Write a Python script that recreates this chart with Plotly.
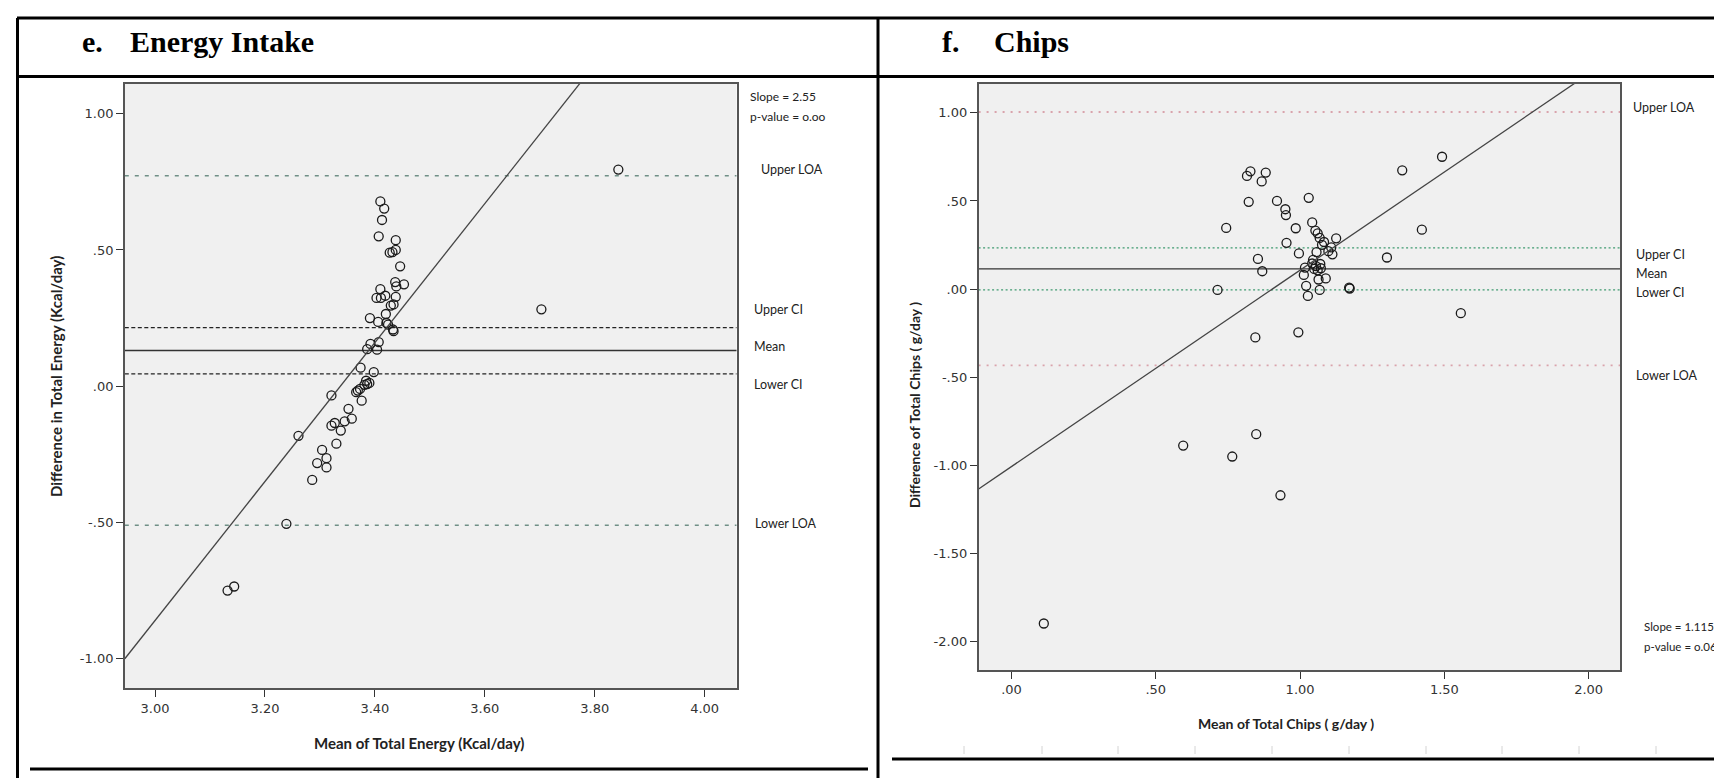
import plotly.graph_objects as go

W, H = 1722, 778

# ---------------- data ----------------
energy_mean = [3.843, 3.703, 3.410, 3.417, 3.413, 3.407, 3.438, 3.427, 3.432, 3.438,
               3.446, 3.453, 3.437, 3.439, 3.410, 3.403, 3.411, 3.419, 3.438, 3.429,
               3.434, 3.420, 3.391, 3.406, 3.421, 3.424, 3.433, 3.434, 3.392, 3.407,
               3.386, 3.404, 3.374, 3.398, 3.384, 3.386, 3.381, 3.390, 3.369, 3.373,
               3.376, 3.366, 3.321, 3.352, 3.358, 3.345, 3.327, 3.321, 3.338, 3.261,
               3.330, 3.304, 3.312, 3.295, 3.312, 3.286, 3.239, 3.132, 3.144]
energy_diff = [0.795, 0.282, 0.678, 0.652, 0.610, 0.550, 0.536, 0.490, 0.492, 0.500,
               0.440, 0.374, 0.382, 0.366, 0.356, 0.324, 0.324, 0.332, 0.328, 0.296,
               0.300, 0.265, 0.250, 0.236, 0.232, 0.226, 0.208, 0.202, 0.155, 0.162,
               0.136, 0.134, 0.068, 0.052, 0.020, 0.008, 0.005, 0.012, -0.016, -0.010,
               -0.053, -0.022, -0.034, -0.083, -0.119, -0.129, -0.135, -0.145, -0.163, -0.182,
               -0.211, -0.234, -0.264, -0.282, -0.298, -0.344, -0.505, -0.750, -0.735]
energy_lines = {"upper_loa": 0.772, "upper_ci": 0.215, "mean": 0.131,
                "lower_ci": 0.045, "lower_loa": -0.510}
energy_slope, energy_intercept = 2.55, -8.510

chips_mean = [0.112, 0.595, 0.765, 0.848, 0.932, 0.845, 0.994, 1.557, 0.714, 1.170,
              1.172, 1.301, 1.422, 1.354, 1.492, 0.744, 0.816, 0.828, 0.881, 0.867,
              0.822, 0.920, 0.949, 0.951, 1.030, 0.985, 0.953, 0.854, 0.869, 1.042,
              1.053, 1.061, 1.068, 1.083, 1.076, 1.125, 1.108, 1.098, 1.112, 0.996,
              1.057, 1.042, 1.070, 1.017, 1.049, 1.061, 1.045, 1.013, 1.064, 1.089,
              1.021, 1.068, 1.027, 1.055, 1.072]
chips_diff = [-1.899, -0.889, -0.951, -0.824, -1.171, -0.275, -0.246, -0.137, -0.005, 0.008,
              0.003, 0.179, 0.337, 0.674, 0.751, 0.347, 0.642, 0.668, 0.661, 0.611,
              0.495, 0.500, 0.453, 0.420, 0.518, 0.345, 0.262, 0.171, 0.101, 0.378,
              0.332, 0.316, 0.290, 0.267, 0.251, 0.288, 0.236, 0.215, 0.197, 0.202,
              0.210, 0.145, 0.142, 0.122, 0.114, 0.106, 0.166, 0.080, 0.054, 0.060,
              0.018, -0.005, -0.039, 0.130, 0.118]
chips_lines = {"upper_loa": 1.005, "upper_ci": 0.234, "mean": 0.114,
               "lower_ci": -0.005, "lower_loa": -0.434}
chips_slope, chips_intercept = 1.115, -1.008

energy_xticks = [3.0, 3.2, 3.4, 3.6, 3.8, 4.0]
energy_xtext = ["3.00", "3.20", "3.40", "3.60", "3.80", "4.00"]
energy_yticks = [1.0, 0.5, 0.0, -0.5, -1.0]
energy_ytext = ["1.00", ".50", ".00", "-.50", "-1.00"]
chips_xticks = [0.0, 0.5, 1.0, 1.5, 2.0]
chips_xtext = [".00", ".50", "1.00", "1.50", "2.00"]
chips_yticks = [1.0, 0.5, 0.0, -0.5, -1.0, -1.5, -2.0]
chips_ytext = ["1.00", ".50", ".00", "-.50", "-1.00", "-1.50", "-2.00"]

energy_xrange = [2.945, 4.058]
energy_yrange = [-1.109, 1.109]
chips_xrange = [-0.114, 2.110]
chips_yrange = [-2.163, 1.164]

# ---------------- helpers ----------------
def px(x):
    return x / W

def py(y):
    return 1 - y / H

fig = go.Figure()

marker = dict(symbol="circle-open", size=9, color="#1a1a1a", line=dict(width=1.3, color="#1a1a1a"))

# scatter points
fig.add_trace(go.Scatter(x=energy_mean, y=energy_diff, mode="markers", marker=marker,
                         xaxis="x", yaxis="y", showlegend=False, cliponaxis=False))
fig.add_trace(go.Scatter(x=chips_mean, y=chips_diff, mode="markers", marker=marker,
                         xaxis="x2", yaxis="y2", showlegend=False, cliponaxis=False))

# regression lines
ex = [energy_xrange[0], energy_xrange[1]]
fig.add_trace(go.Scatter(x=ex, y=[energy_intercept + energy_slope * v for v in ex], mode="lines",
                         line=dict(color="#444444", width=1.3), xaxis="x", yaxis="y", showlegend=False))
cx = [chips_xrange[0], chips_xrange[1]]
fig.add_trace(go.Scatter(x=cx, y=[chips_intercept + chips_slope * v for v in cx], mode="lines",
                         line=dict(color="#444444", width=1.3), xaxis="x2", yaxis="y2", showlegend=False))

shapes = []

def hline(xr, yr, val, color, dash, width=1.3):
    shapes.append(dict(type="line", xref=xr + " domain", yref=yr, x0=0, x1=1, y0=val, y1=val,
                       line=dict(color=color, width=width, dash=dash), layer="below"))

# Energy reference lines
hline("x", "y", energy_lines["upper_loa"], "#6f8f86", "4px,6px", 1.5)
hline("x", "y", energy_lines["lower_loa"], "#6f8f86", "4px,6px", 1.5)
hline("x", "y", energy_lines["upper_ci"], "#222222", "4px,2.5px", 1.2)
hline("x", "y", energy_lines["lower_ci"], "#222222", "4px,2.5px", 1.2)
hline("x", "y", energy_lines["mean"], "#333333", "solid", 1.3)

# Chips reference lines
hline("x2", "y2", chips_lines["upper_loa"], "#d9a3ac", "2px,6px", 1.8)
hline("x2", "y2", chips_lines["lower_loa"], "#d9a3ac", "2px,6px", 1.8)
hline("x2", "y2", chips_lines["upper_ci"], "#3f9a70", "2px,2.5px", 1.3)
hline("x2", "y2", chips_lines["lower_ci"], "#3f9a70", "2px,2.5px", 1.3)
hline("x2", "y2", chips_lines["mean"], "#333333", "solid", 1.3)

# table lines (decorative frame)
tbl = dict(color="black", width=3)
shapes += [
    dict(type="line", xref="paper", yref="paper", x0=px(9), x1=1, y0=py(10), y1=py(10), line=tbl),
    dict(type="line", xref="paper", yref="paper", x0=px(9), x1=1, y0=py(68.5), y1=py(68.5), line=tbl),
    dict(type="line", xref="paper", yref="paper", x0=px(9.5), x1=px(9.5), y0=py(10), y1=0, line=tbl),
    dict(type="line", xref="paper", yref="paper", x0=px(870), x1=px(870), y0=py(10), y1=0, line=tbl),
    dict(type="line", xref="paper", yref="paper", x0=px(22), x1=px(860), y0=py(761), y1=py(761), line=tbl),
    dict(type="line", xref="paper", yref="paper", x0=px(884), x1=1, y0=py(751), y1=py(751), line=tbl),
]
# faint ruler ticks under right panel
for xr in [956, 1034, 1110, 1187, 1264, 1341, 1418, 1494, 1571, 1648]:
    shapes.append(dict(type="line", xref="paper", yref="paper", x0=px(xr), x1=px(xr),
                       y0=py(738), y1=py(746), line=dict(color="#d4d4d4", width=1)))

ann = []
def text(x, y, s, size=13, bold=False, family="Lato", anchor="left", color="#222222", angle=0):
    ann.append(dict(x=px(x), y=py(y), xref="paper", yref="paper", text=("<b>%s</b>" % s) if bold else s,
                    showarrow=False, xanchor=anchor, yanchor="middle", textangle=angle,
                    font=dict(family=family, size=size, color=color)))

# panel titles
text(72, 33, "e.", 30, True, "Liberation Serif", color="black")
text(120, 33, "Energy Intake", 30, True, "Liberation Serif", color="black")
text(932, 33, "f.", 30, True, "Liberation Serif", color="black")
text(984, 33, "Chips", 30, True, "Liberation Serif", color="black")

# axis titles
text(411, 735, "Mean of Total Energy (Kcal/day)", 15, True, anchor="center")
text(48, 369, "Difference in Total Energy (Kcal/day)", 15, True, anchor="center", angle=-90)
text(1278, 715, "Mean of Total Chips ( g/day )", 14, True, anchor="center")
text(906, 397, "Difference of Total Chips ( g/day )", 14, True, anchor="center", angle=-90)

# line labels energy
text(739.5, 89, "Slope = 2.55", 12)
text(739.5, 108, "p-value = o.oo", 12)
text(751, 161.5, "Upper LOA", 12.5)
text(744, 301, "Upper CI", 12.5)
text(744, 339, "Mean", 12.5)
text(744, 376, "Lower CI", 12.5)
text(745, 515.5, "Lower LOA", 12.5)

# line labels chips
text(1623, 100, "Upper LOA", 12.5)
text(1626, 247, "Upper CI", 12.5)
text(1626, 266, "Mean", 12.5)
text(1626, 284.5, "Lower CI", 12.5)
text(1626, 367, "Lower LOA", 12.5)
text(1634, 618, "Slope = 1.115", 11.5)
text(1634, 638, "p-value = o.069", 11.5)

axis_common = dict(showgrid=False, zeroline=False, showline=True, mirror=True,
                   linecolor="#555555", linewidth=1.5, ticks="outside", ticklen=7,
                   tickwidth=1.3, tickcolor="#333333",
                   tickfont=dict(family="DejaVu Sans", size=13, color="#333333"))

fig.update_layout(
    width=W, height=H, margin=dict(l=0, r=0, t=0, b=0),
    paper_bgcolor="white", plot_bgcolor="#f0f0f0",
    xaxis=dict(domain=[px(116.8), px(728.5)], range=energy_xrange, anchor="y",
               tickvals=energy_xticks, ticktext=energy_xtext, **axis_common),
    yaxis=dict(domain=[py(680.4), py(76)], range=energy_yrange, anchor="x",
               tickvals=energy_yticks, ticktext=energy_ytext, **axis_common),
    xaxis2=dict(domain=[px(970.6), px(1612.4)], range=chips_xrange, anchor="y2",
                tickvals=chips_xticks, ticktext=chips_xtext, **axis_common),
    yaxis2=dict(domain=[py(662), py(76)], range=chips_yrange, anchor="x2",
                tickvals=chips_yticks, ticktext=chips_ytext, **axis_common),
    shapes=shapes, annotations=ann,
)

fig.write_html("out.html")
